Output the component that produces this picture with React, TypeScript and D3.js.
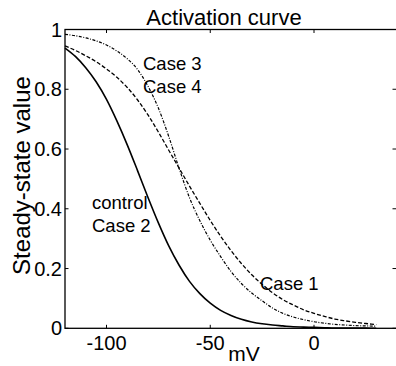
import React from "react";
import * as d3 from "d3";

const voltages = [-120, -115, -110, -105, -100, -95, -90, -85, -80, -75, -70, -65, -60, -55, -50, -45, -40, -35, -30, -25, -20, -15, -10, -5, 0, 5, 10, 15, 20, 25, 30];
const controlCase2 = [0.938, 0.91, 0.872, 0.825, 0.766, 0.694, 0.614, 0.527, 0.438, 0.353, 0.276, 0.211, 0.157, 0.116, 0.084, 0.06, 0.043, 0.03, 0.021, 0.015, 0.011, 0.008, 0.005, 0.004, 0.003, 0.002, 0.001, 0.001, 0.001, 0.0005, 0.0003];
const case1 = [0.945, 0.93, 0.912, 0.892, 0.868, 0.84, 0.806, 0.764, 0.714, 0.657, 0.596, 0.536, 0.476, 0.418, 0.361, 0.308, 0.26, 0.217, 0.179, 0.147, 0.119, 0.096, 0.078, 0.062, 0.05, 0.04, 0.031, 0.025, 0.02, 0.016, 0.012];
const case3Case4 = [0.984, 0.979, 0.972, 0.962, 0.948, 0.928, 0.902, 0.866, 0.81, 0.737, 0.642, 0.535, 0.437, 0.36, 0.295, 0.24, 0.19, 0.15, 0.118, 0.092, 0.068, 0.05, 0.038, 0.029, 0.022, 0.017, 0.013, 0.011, 0.009, 0.008, 0.007];

const xTicks = [-100, -50, 0];
const yTicks = [0, 0.2, 0.4, 0.6, 0.8, 1];
const yTickLabels = ["0", "0.2", "0.4", "0.6", "0.8", "1"];
const xTickLabels = ["-100", "-50", "0"];

const W = 396;
const H = 366;
const FONT = "'Liberation Sans', Arial, sans-serif";

export default function App() {
  const x = d3.scaleLinear().domain([-120, 40]).range([65, 397]);
  const y = d3.scaleLinear().domain([0, 1]).range([328.3, 29.5]);

  const mk = (vals: number[]) =>
    d3
      .line<number>()
      .x((_, i) => x(voltages[i]))
      .y((d) => y(d))
      .curve(d3.curveMonotoneX)(vals) as string;

  const tl = 3.5;
  const [x0, x1] = x.range();
  const [yb, yt] = y.range();

  return (
    <svg
      width={W}
      height={H}
      style={{ position: "absolute", left: 0, top: 0, background: "#fff" }}
      fontFamily={FONT}
    >
      <rect x={0} y={0} width={W} height={H} fill="#fff" />
      {/* curves */}
      <path d={mk(controlCase2)} fill="none" stroke="#000" strokeWidth={1.6} />
      <path d={mk(case1)} fill="none" stroke="#000" strokeWidth={1.3} strokeDasharray="4,2" />
      <path d={mk(case3Case4)} fill="none" stroke="#000" strokeWidth={1.2} strokeDasharray="3,1.5,1,1.5" />

      {/* box */}
      <rect x={x0} y={yt} width={x1 - x0} height={yb - yt} fill="none" stroke="#000" strokeWidth={1.3} />
      {/* ticks */}
      {xTicks.map((t) => (
        <g key={"xt" + t}>
          <line x1={x(t)} x2={x(t)} y1={yb} y2={yb - tl} stroke="#000" strokeWidth={1} />
          <line x1={x(t)} x2={x(t)} y1={yt} y2={yt + tl} stroke="#000" strokeWidth={1} />
        </g>
      ))}
      {yTicks.map((t) => (
        <g key={"yt" + t}>
          <line x1={x0} x2={x0 + tl} y1={y(t)} y2={y(t)} stroke="#000" strokeWidth={1} />
          <line x1={x1} x2={x1 - tl - 1} y1={y(t)} y2={y(t)} stroke="#000" strokeWidth={1} />
        </g>
      ))}
      {/* tick labels */}
      {xTicks.map((t, i) => (
        <text key={"xl" + t} x={x(t)} y={350} fontSize={20} textAnchor="middle">
          {xTickLabels[i]}
        </text>
      ))}
      {yTicks.map((t, i) => (
        <text key={"yl" + t} x={62} y={y(t) + 7} fontSize={20} textAnchor="end">
          {yTickLabels[i]}
        </text>
      ))}

      {/* titles */}
      <text x={224} y={25} fontSize={22} textAnchor="middle">Activation curve</text>
      <text x={244} y={361} fontSize={21} textAnchor="middle">mV</text>
      <text transform="translate(30,175.5) rotate(-90)" fontSize={24} textAnchor="middle">
        Steady-state value
      </text>

      {/* annotations */}
      <text x={143} y={70} fontSize={18.5}>Case 3</text>
      <text x={143} y={93} fontSize={18.5}>Case 4</text>
      <text x={92} y={209} fontSize={18.5}>control</text>
      <text x={92} y={232} fontSize={18.5}>Case 2</text>
      <text x={260} y={290} fontSize={18.5}>Case 1</text>
    </svg>
  );
}
